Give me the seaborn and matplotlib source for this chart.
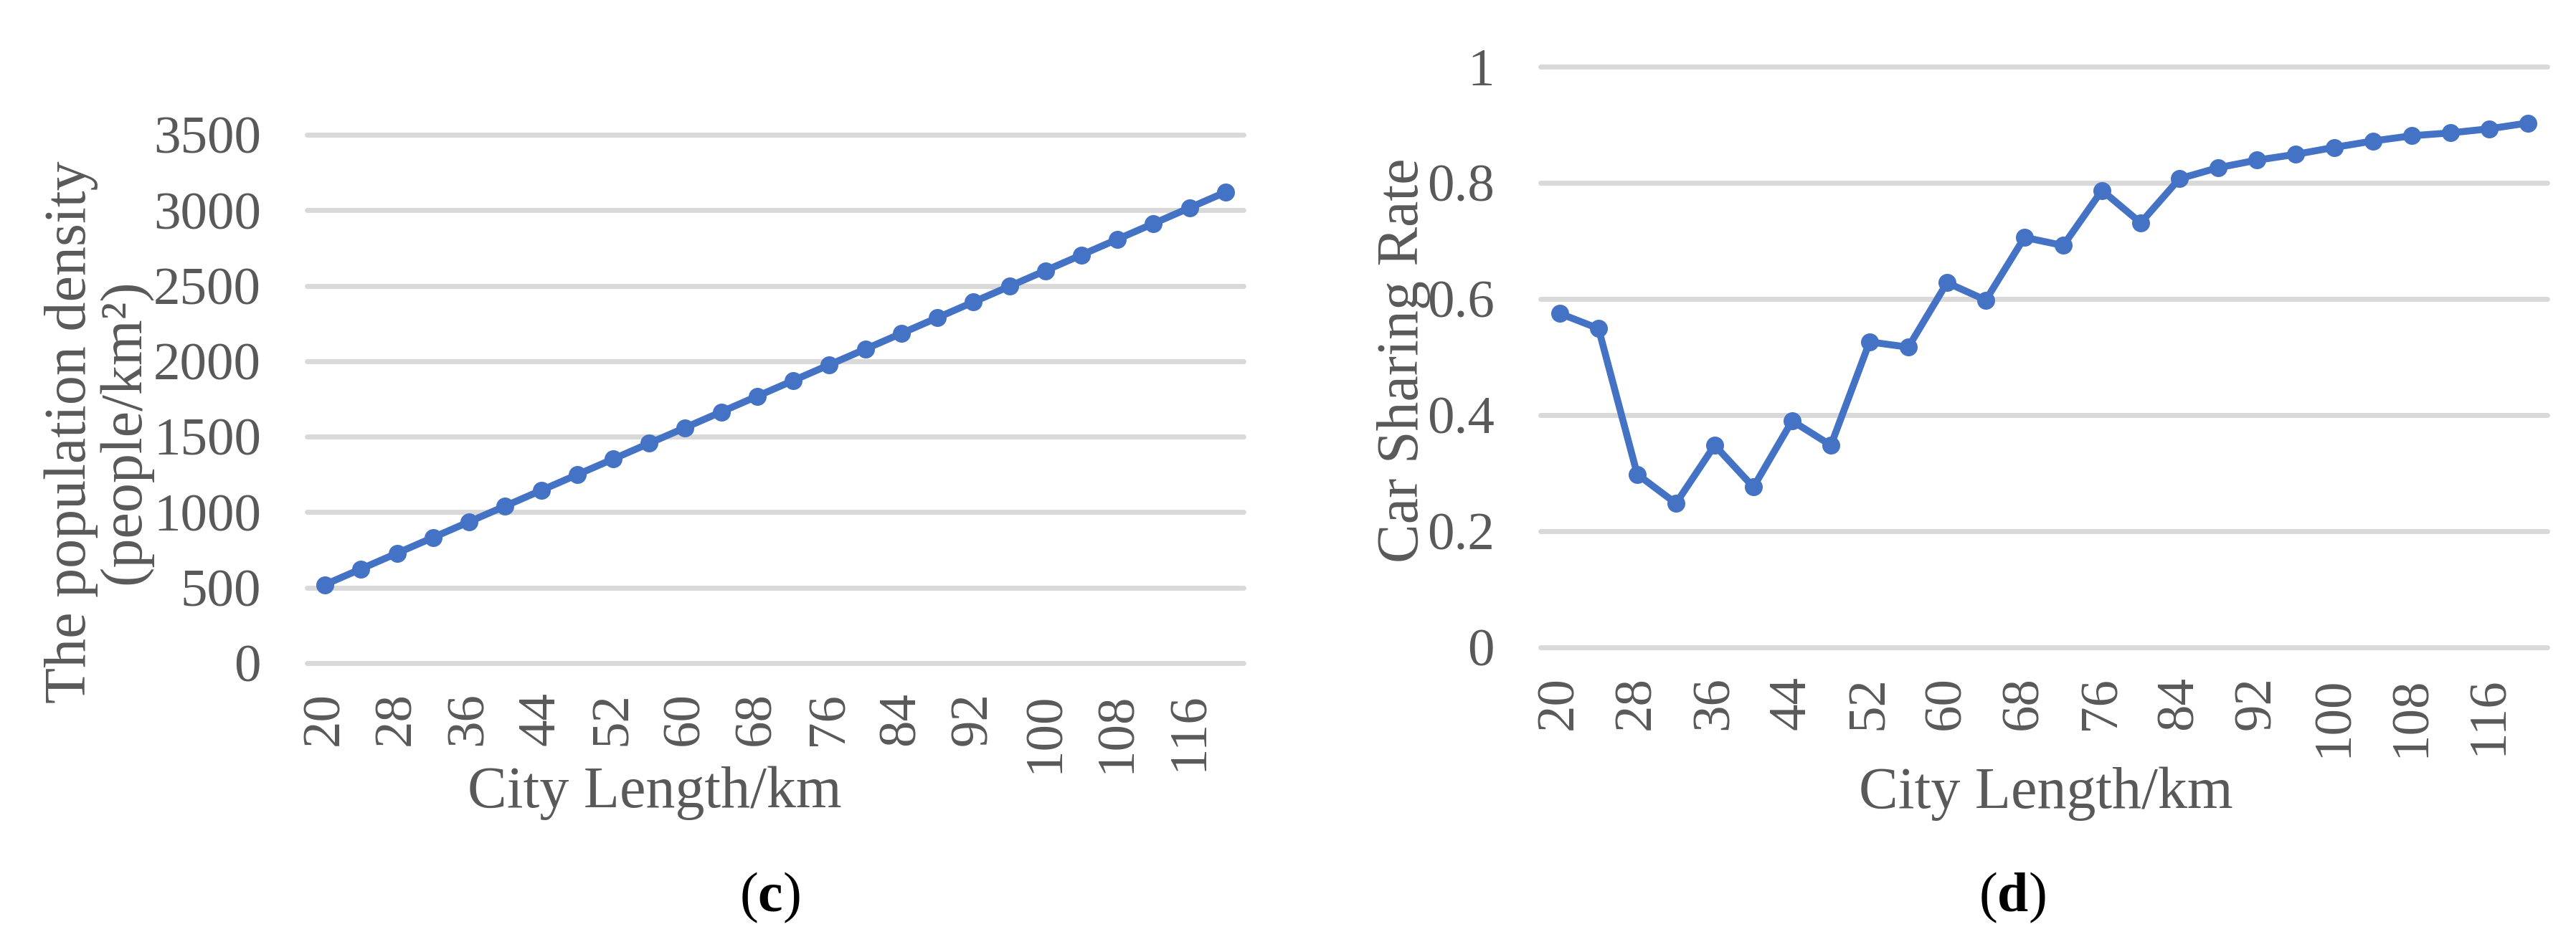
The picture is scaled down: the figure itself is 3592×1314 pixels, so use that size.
import matplotlib
matplotlib.use("Agg")
import matplotlib.pyplot as plt
import seaborn as sns
import pandas as pd

sns.set_style("white")
plt.rcParams["font.family"] = ["Liberation Serif", "DejaVu Serif"]
plt.rcParams["mathtext.fontset"] = "custom"
plt.rcParams["mathtext.rm"] = "Liberation Serif"
plt.rcParams["mathtext.bf"] = "Liberation Serif:bold"

# data
city_length = [20, 24, 28, 32, 36, 40, 44, 48, 52, 56, 60, 64, 68,
               72, 76, 80, 84, 88, 92, 96, 100, 104, 108, 112, 116, 120]
pop_density = [520, 624, 728, 832, 936, 1040, 1144, 1248, 1352, 1456,
               1560, 1664, 1768, 1872, 1976, 2080, 2184, 2288, 2392,
               2496, 2600, 2704, 2808, 2912, 3016, 3120]
sharing_rate = [0.575, 0.549, 0.298, 0.248, 0.348, 0.276, 0.390, 0.348,
                0.526, 0.517, 0.628, 0.598, 0.706, 0.692, 0.787, 0.731,
                0.807, 0.826, 0.839, 0.849, 0.861, 0.872, 0.881, 0.886,
                0.893, 0.903]
xtick_labels = [20, 28, 36, 44, 52, 60, 68, 76, 84, 92, 100, 108, 116]

df = pd.DataFrame({"length": city_length, "density": pop_density,
                   "rate": sharing_rate})

W, H = 3592, 1314
TEXT = "#595959"
GRID = "#d9d9d9"
BLUE = "#4472C4"
TICK_FS = 54
LABEL_FS = 59

fig = plt.figure(figsize=(W / 100, H / 100), dpi=100)


def px_axes(x0, x1, y_top, y_bot):
    return fig.add_axes([x0 / W, (H - y_bot) / H, (x1 - x0) / W, (y_bot - y_top) / H])


def style_axes(ax, yticks, yfmt):
    ax.set_xlim(18, 122)
    ax.set_xticks(xtick_labels)
    ax.set_xticklabels([str(v) for v in xtick_labels], rotation=90, va="top")
    ax.set_yticks(yticks)
    ax.set_yticklabels([yfmt(v) for v in yticks])
    ax.tick_params(axis="both", length=0, labelsize=TICK_FS, colors=TEXT)
    ax.tick_params(axis="x", pad=29)
    ax.tick_params(axis="y", pad=46)
    ax.grid(axis="y", color=GRID, linewidth=5)
    ax.grid(axis="x", visible=False)
    for gl in ax.yaxis.get_gridlines():
        gl.set_clip_on(False)
    for s in ax.spines.values():
        s.set_visible(False)
    ax.set_axisbelow(True)


# (c) population density
ax1 = px_axes(428, 1734, 188, 925)
sns.lineplot(data=df, x="length", y="density", ax=ax1, color=BLUE,
             linewidth=7, marker="o", markersize=18, markeredgewidth=0,
             clip_on=False)
ax1.set_ylim(0, 3500)
style_axes(ax1, list(range(0, 3501, 500)), lambda v: f"{v}")
ax1.set_ylabel("The population density\n(people/km²)", fontsize=LABEL_FS,
               color=TEXT, linespacing=1.0)
ax1.yaxis.set_label_coords(-0.165, 0.438)
ax1.set_xlabel("City Length/km", fontsize=LABEL_FS, color=TEXT)
ax1.xaxis.set_label_coords(0.371, -0.195)

# (d) car sharing rate
ax2 = px_axes(2148, 3552, 93, 903)
sns.lineplot(data=df, x="length", y="rate", ax=ax2, color=BLUE,
             linewidth=7, marker="o", markersize=18, markeredgewidth=0,
             clip_on=False)
ax2.set_ylim(0, 1)
style_axes(ax2, [0, 0.2, 0.4, 0.6, 0.8, 1.0],
           lambda v: "0" if v == 0 else ("1" if v == 1 else f"{v:.1f}"))
ax2.set_ylabel("Car Sharing Rate", fontsize=LABEL_FS, color=TEXT)
ax2.yaxis.set_label_coords(-0.109, 0.494)
ax2.set_xlabel("City Length/km", fontsize=LABEL_FS, color=TEXT)
ax2.xaxis.set_label_coords(0.502, -0.205)

fig.text(1073 / W, 1 - 1252 / H, r"($\mathbf{c}$)", fontsize=56,
         color="black", ha="center", va="center")
fig.text(2806 / W, 1 - 1252 / H, r"($\mathbf{d}$)", fontsize=56,
         color="black", ha="center", va="center")

fig.savefig("out.png", dpi=100, facecolor="white")
